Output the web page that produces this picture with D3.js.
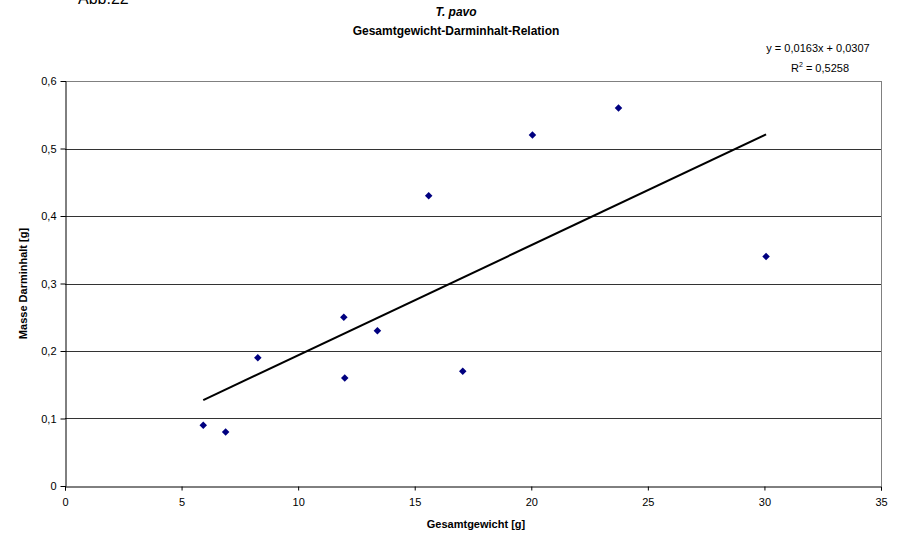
<!DOCTYPE html>
<html>
<head>
<meta charset="utf-8">
<script src="https://cdn.jsdelivr.net/npm/d3@7/dist/d3.min.js"></script>
<style>
  html, body { margin: 0; padding: 0; background: #fff; }
  svg { display: block; font-family: "Liberation Sans", Arial, sans-serif; }
</style>
</head>
<body>
<svg id="chart" width="903" height="538"></svg>
<script>
// Total weight (g) and gut content mass (g) per specimen
const gesamtgewicht = [5.93, 6.89, 8.27, 11.96, 12.0, 13.4, 15.6, 17.06, 20.05, 23.74, 30.07];
const darminhalt    = [0.09, 0.08, 0.19, 0.25, 0.16, 0.23, 0.43, 0.17, 0.52, 0.56, 0.34];

// Linear trend line coefficients
const slope = 0.0163;
const intercept = 0.0307;
const rSquared = "0,5258";

const xTicks = [0, 5, 10, 15, 20, 25, 30, 35];
const yTicks = [0, 0.1, 0.2, 0.3, 0.4, 0.5, 0.6];

const svg = d3.select("#chart");
const m = { left: 65, right: 881, top: 81, bottom: 486 };

const x = d3.scaleLinear().domain([0, 35]).range([m.left, m.right]);
const y = d3.scaleLinear().domain([0, 0.6]).range([m.bottom, m.top]);
const fmt = d => String(d).replace(".", ",");

// Figure label at the top edge
svg.append("text").attr("x", 78).attr("y", 4).attr("font-size", 16).text("Abb.22");

// Titles
svg.append("text").attr("x", 456).attr("y", 16).attr("text-anchor", "middle")
  .attr("font-size", 12).attr("font-weight", "bold").attr("font-style", "italic").text("T. pavo");
svg.append("text").attr("x", 456).attr("y", 35).attr("text-anchor", "middle")
  .attr("font-size", 12).attr("font-weight", "bold").text("Gesamtgewicht-Darminhalt-Relation");

// Gridlines
svg.append("g").selectAll("line").data(yTicks.filter(d => d > 0)).join("line")
  .attr("x1", m.left).attr("x2", m.right)
  .attr("y1", d => Math.round(y(d)) + 0.5).attr("y2", d => Math.round(y(d)) + 0.5)
  .attr("stroke", d => d === 0.6 ? "#808080" : "#333").attr("stroke-width", 1);

// Right border
svg.append("line").attr("x1", m.right + 0.5).attr("x2", m.right + 0.5)
  .attr("y1", m.top).attr("y2", m.bottom).attr("stroke", "#808080");

// Axes
const xAxis = d3.axisBottom(x).tickValues(xTicks).tickFormat(fmt).tickSize(4).tickPadding(8);
const gx = svg.append("g").attr("transform", `translate(0,${m.bottom + 0.5})`).call(xAxis);
const yAxis = d3.axisLeft(y).tickValues(yTicks).tickFormat(fmt).tickSize(4).tickPadding(5);
const gy = svg.append("g").attr("transform", `translate(${m.left + 0.5},0)`).call(yAxis);
[gx, gy].forEach(g => {
  g.select(".domain").attr("stroke", "#000");
  g.selectAll(".tick line").attr("stroke", "#000");
  g.selectAll(".tick text").attr("font-size", 11).attr("fill", "#000")
    .attr("font-family", "Liberation Sans, Arial, sans-serif");
});
gy.selectAll(".tick line").attr("x2", -5);

// Axis titles
svg.append("text").attr("x", 476).attr("y", 528).attr("text-anchor", "middle")
  .attr("font-size", 11).attr("font-weight", "bold").text("Gesamtgewicht [g]");
svg.append("text").attr("transform", `translate(27,${(m.top + m.bottom) / 2}) rotate(-90)`)
  .attr("text-anchor", "middle").attr("font-size", 11).attr("font-weight", "bold")
  .text("Masse Darminhalt [g]");

// Trend line over the data range
const xMin = d3.min(gesamtgewicht), xMax = d3.max(gesamtgewicht);
svg.append("line")
  .attr("x1", x(xMin)).attr("y1", y(slope * xMin + intercept))
  .attr("x2", x(xMax)).attr("y2", y(slope * xMax + intercept))
  .attr("stroke", "#000").attr("stroke-width", 2);

// Data points as diamonds
const pts = gesamtgewicht.map((g, i) => ({ g, d: darminhalt[i] }));
svg.append("g").selectAll("path").data(pts).join("path")
  .attr("d", d3.symbol().type(d3.symbolDiamond2).size(36))
  .attr("transform", d => `translate(${x(d.g)},${y(d.d)})`)
  .attr("fill", "#000080");

// Trend equation label
const eq = svg.append("g").attr("font-size", 11);
eq.append("text").attr("x", 818).attr("y", 52).attr("text-anchor", "middle")
  .text("y = " + fmt(slope) + "x + " + fmt(intercept));
const r2 = eq.append("text").attr("x", 820).attr("y", 72).attr("text-anchor", "middle");
r2.append("tspan").text("R");
r2.append("tspan").attr("dy", -5).attr("font-size", 7).text("2");
r2.append("tspan").attr("dy", 5).text(" = " + rSquared);
</script>
</body>
</html>
